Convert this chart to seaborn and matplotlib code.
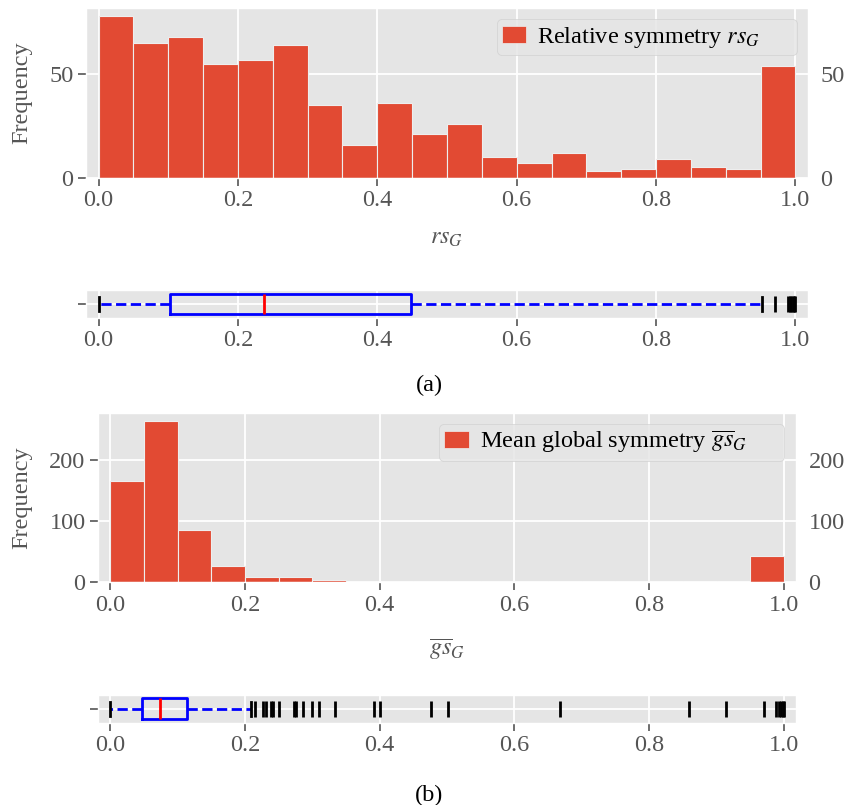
import numpy as np
import pandas as pd
import matplotlib
matplotlib.use("Agg")
import matplotlib.pyplot as plt
import matplotlib.patches as mpatches
import seaborn as sns

# histogram bins (width 0.05 on [0, 1])
bin_edges = [round(0.05 * i, 2) for i in range(21)]
bin_centers = [round(0.05 * i + 0.025, 3) for i in range(20)]

# (a) relative symmetry rs_G, counts per bin
rs_counts = [78, 65, 68, 55, 57, 64, 35, 16, 36, 21,
             26, 10, 7, 12, 3, 4, 9, 5, 4, 54]
# (a) box plot summary
rs_box = dict(whislo=0.0, q1=0.102, med=0.238, q3=0.448, whishi=0.952)
rs_fliers = [0.971, 0.990, 0.992, 0.994, 0.996, 0.998, 1.0]

# (b) mean global symmetry, counts per bin
gs_counts = [166, 265, 86, 27, 9, 9, 3, 1, 1, 1,
             1, 0, 0, 1, 0, 0, 0, 1, 1, 43]
# (b) box plot summary
gs_box = dict(whislo=0.0, q1=0.048, med=0.0734, q3=0.1147, whishi=0.2085)
gs_fliers = [0.2148, 0.2272, 0.2307, 0.2391, 0.2421, 0.2505, 0.2728, 0.2763,
             0.2862, 0.3001, 0.3100, 0.3338, 0.3909, 0.4008, 0.4762, 0.5010,
             0.6680, 0.8590, 0.9140, 0.9710, 0.989, 0.992, 0.995, 0.998, 1.0]

x_ticks = [0.0, 0.2, 0.4, 0.6, 0.8, 1.0]

plt.style.use('ggplot')
plt.rcParams['font.family'] = ['Liberation Serif', 'DejaVu Serif']
plt.rcParams['mathtext.fontset'] = 'stix'
plt.rcParams['font.size'] = 17.5
plt.rcParams['xtick.major.size'] = 5.5
plt.rcParams['ytick.major.size'] = 5.5
plt.rcParams['xtick.major.width'] = 1.2
plt.rcParams['ytick.major.width'] = 1.2
plt.rcParams['grid.linewidth'] = 1.3

bar_color = '#E24A33'

fig = plt.figure(figsize=(8.59, 8.05), dpi=100)


def draw_hist(rect, counts, yticks, label, xlabel, xpad, leg_box):
    ax = fig.add_axes(rect)
    df = pd.DataFrame({'x': bin_centers, 'n': counts})
    sns.histplot(data=df, x='x', weights='n', bins=bin_edges, ax=ax,
                 color=bar_color, alpha=1, edgecolor='#EEEEEE', linewidth=0.8)
    ax.set_xlim(-0.018, 1.018)
    ax.set_xticks(x_ticks)
    ax.set_yticks(yticks)
    ax.tick_params(axis='y', labelright=True, right=False)
    ax.tick_params(labelsize=17.5)
    ax.set_ylabel('Frequency', fontsize=17.5, labelpad=12.5)
    ax.set_xlabel(xlabel, fontsize=17.5, labelpad=xpad)
    handle = mpatches.Patch(facecolor=bar_color, edgecolor='#EEEEEE')
    ax.legend(handles=[handle], labels=[label], loc='upper left',
              bbox_to_anchor=leg_box, mode='expand', borderaxespad=0,
              fontsize=17.5, handlelength=1.0, handletextpad=0.45,
              borderpad=0.22)
    return ax


def draw_box(rect, stats, fliers):
    ax = fig.add_axes(rect)
    s = dict(stats)
    s['fliers'] = fliers
    ax.bxp([s], positions=[1], widths=0.75, capwidths=0.48,
           orientation='horizontal',
           boxprops=dict(color='blue', linewidth=2),
           whiskerprops=dict(color='blue', linestyle='--', linewidth=2),
           capprops=dict(color='black', linewidth=2),
           medianprops=dict(color='red', linewidth=2),
           flierprops=dict(marker='|', markeredgecolor='black',
                           markersize=11, markeredgewidth=2, linestyle='none'))
    ax.set_ylim(0.5, 1.5)
    ax.set_yticks([1])
    ax.set_yticklabels([''])
    ax.set_xlim(-0.018, 1.018)
    ax.set_xticks(x_ticks)
    ax.set_xticklabels(['%.1f' % t for t in x_ticks])
    ax.tick_params(labelsize=17.5)
    return ax


draw_hist([0.1001, 0.7793, 0.8405, 0.2108], rs_counts, [0, 50],
          r'Relative symmetry $rs_G$', r'$rs_G$', 12,
          (0.569, 0, 0.4155, 0.933))
draw_box([0.1001, 0.6053, 0.8405, 0.0344], rs_box, rs_fliers)
fig.text(0.5, 0.5217, '(a)', ha='center', va='center', fontsize=17.5)

draw_hist([0.1141, 0.2767, 0.8126, 0.2107], gs_counts, [0, 100, 200],
          r'Mean global symmetry $\overline{gs}_G$', r'$\overline{gs}_G$', 15,
          (0.4885, 0, 0.494, 0.933))
draw_box([0.1141, 0.1022, 0.8126, 0.0344], gs_box, gs_fliers)
fig.text(0.5, 0.0124, '(b)', ha='center', va='center', fontsize=17.5)

fig.savefig('out.png', dpi=100)
